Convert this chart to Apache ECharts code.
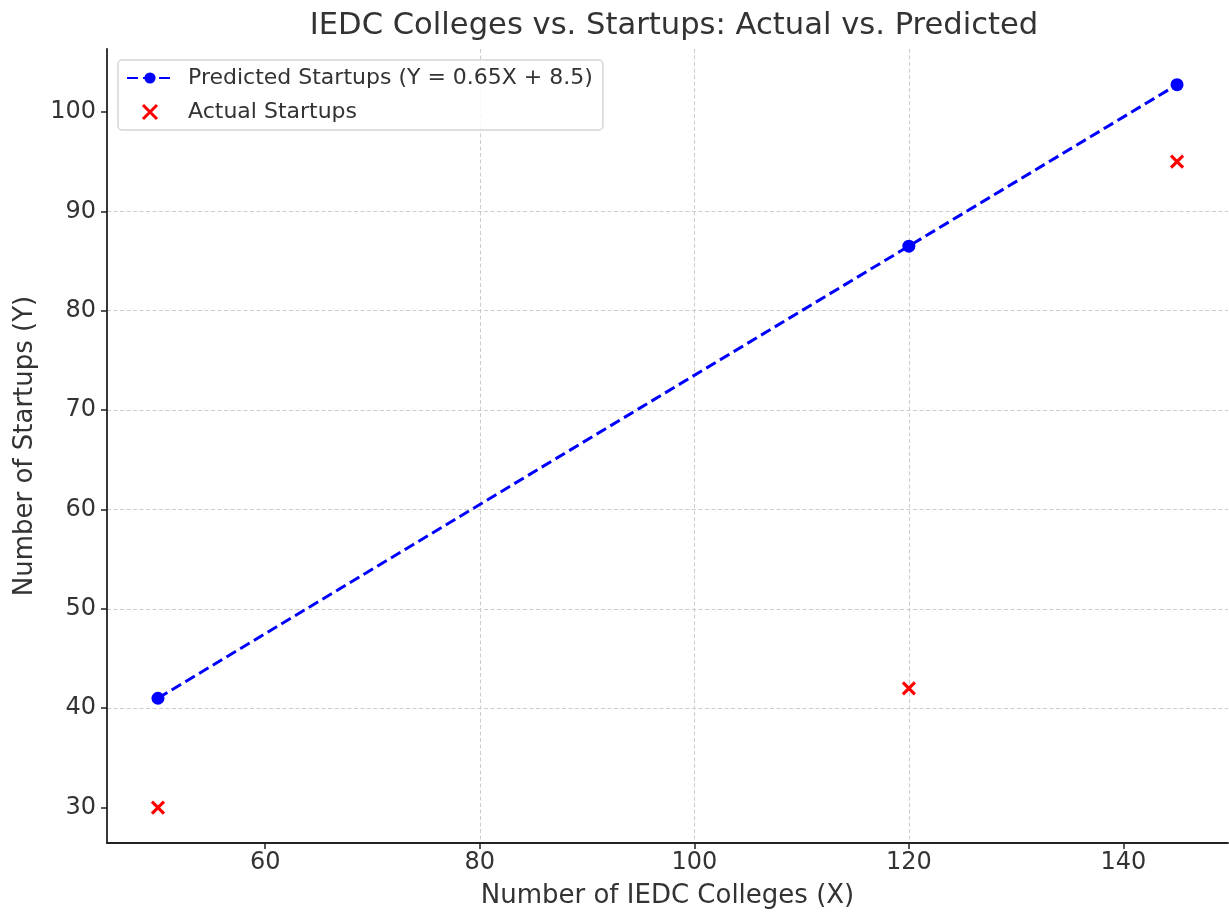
<!DOCTYPE html>
<html>
<head>
<meta charset="utf-8">
<script src="https://cdn.jsdelivr.net/npm/echarts@6/dist/echarts.min.js"></script>
<style>html,body{margin:0;padding:0;background:#fff}#chart{width:1229px;height:914px}</style>
</head>
<body>
<div id="chart"></div>
<script>
const collegesX = [50, 120, 145];
const predictedY = [41, 86.5, 102.75];
const actualY = [30, 42, 95];
const xTicks = [60, 80, 100, 120, 140];
const yTicks = [30, 40, 50, 60, 70, 80, 90, 100];

const font = 'DejaVu Sans';
const chart = echarts.init(document.getElementById('chart'));
const xCross = 'path://M0,0L10,10M10,0L0,10';
const predName = 'Predicted Startups (Y = 0.65X + 8.5)';
const actName = 'Actual Startups';

chart.setOption({
  animation: false,
  backgroundColor: '#ffffff',
  title: {
    text: 'IEDC Colleges vs. Startups: Actual vs. Predicted',
    left: 669, top: 6, textAlign: 'center',
    textStyle: {fontFamily: font, fontSize: 30.6, fontWeight: 'normal', color: '#333333'}
  },
  legend: {
    orient: 'vertical', left: 118, top: 60,
    padding: [7, 10, 7, 8],
    itemWidth: 46, itemHeight: 14, itemGap: 12,
    borderColor: '#d5d5d5', borderWidth: 1.5, borderRadius: 4,
    backgroundColor: 'rgba(255,255,255,0.85)',
    textStyle: {fontFamily: font, fontSize: 22, color: '#333333', padding: [0, 0, 0, 10]},
    data: [
      {name: predName},
      {name: actName, itemStyle: {color: '#ff0000', borderColor: '#ff0000', borderWidth: 3, opacity: 1}}
    ]
  },
  grid: {left: 107, right: 1, top: 49, bottom: 70, containLabel: false},
  xAxis: {
    type: 'value', min: 45.25, max: 149.75,
    name: 'Number of IEDC Colleges (X)', nameLocation: 'middle', nameGap: 40,
    nameTextStyle: {fontFamily: font, fontSize: 26, color: '#333333'},
    axisLine: {show: true, onZero: false, lineStyle: {color: '#222222', width: 1.8}},
    axisTick: {show: true, length: 6, customValues: xTicks, lineStyle: {color: '#222222', width: 1.5}},
    axisLabel: {customValues: xTicks, fontFamily: font, fontSize: 24, color: '#333333', margin: 8},
    splitLine: {show: true, customValues: xTicks, showMinLine: false, showMaxLine: false, lineStyle: {color: '#cccccc', type: [4, 2.5], width: 1}}
  },
  yAxis: {
    type: 'value', min: 26.43, max: 106.34,
    name: 'Number of Startups (Y)', nameLocation: 'middle', nameGap: 69, nameRotate: 90,
    nameTextStyle: {fontFamily: font, fontSize: 26, color: '#333333'},
    axisLine: {show: true, onZero: false, lineStyle: {color: '#222222', width: 1.8}},
    axisTick: {show: true, length: 6, customValues: yTicks, lineStyle: {color: '#222222', width: 1.5}},
    axisLabel: {customValues: yTicks, fontFamily: font, fontSize: 24, color: '#333333', margin: 11},
    splitLine: {show: true, customValues: yTicks, showMinLine: false, showMaxLine: false, lineStyle: {color: '#cccccc', type: [4, 2.5], width: 1}}
  },
  series: [
    {
      name: predName,
      type: 'line',
      data: collegesX.map((x, i) => [x, predictedY[i]]),
      symbol: 'circle', symbolSize: 13,
      lineStyle: {color: '#0000ff', width: 3, type: [11, 5]},
      itemStyle: {color: '#0000ff'},
      z: 3
    },
    {
      name: actName,
      type: 'scatter',
      data: collegesX.map((x, i) => [x, actualY[i]]),
      symbol: xCross, symbolSize: 12,
      itemStyle: {color: '#ff0000', borderColor: '#ff0000', borderWidth: 3.2, opacity: 1},
      z: 4
    }
  ]
});
</script>
</body>
</html>
